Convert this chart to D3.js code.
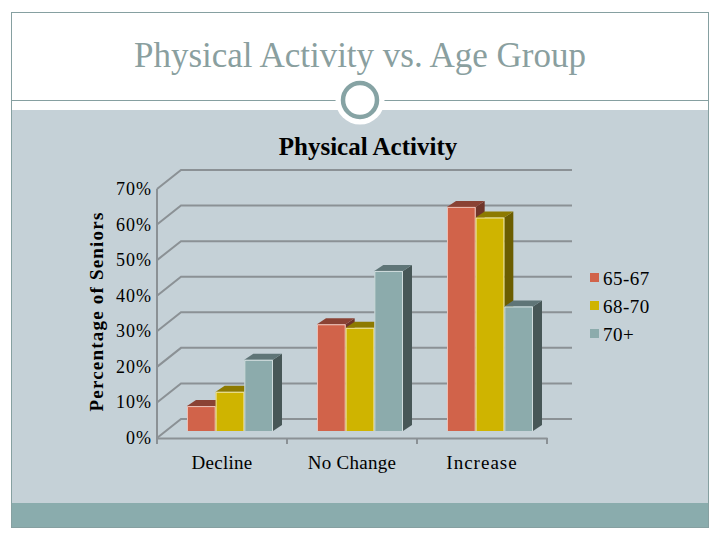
<!DOCTYPE html>
<html><head><meta charset="utf-8">
<script src="https://cdnjs.cloudflare.com/ajax/libs/d3/7.8.5/d3.min.js"></script>
<style>html,body{margin:0;padding:0;background:#fff}svg{display:block}text{font-family:"Liberation Serif",serif}</style>
</head><body><div id="c"></div>
<script>
const categories = ["Decline","No Change","Increase"];
const seriesNames = ["65-67","68-70","70+"];
const s6567 = [7,30,63];
const s6870 = [11,29,60];
const s70plus = [20,45,35];
const tickValues = [0,10,20,30,40,50,60,70];
const seriesValues = [s6567,s6870,s70plus];
const frontCol = ["#d1634a","#cfb400","#8cabac"];
const topCol = ["#8a4234","#8d7a00","#5f7577"];
const sideCol = ["#6f352a","#6b5d00","#475757"];

const svg = d3.select("#c").append("svg").attr("width",720).attr("height",540);
// slide
svg.append("rect").attr("x",12).attr("y",110).attr("width",696).attr("height",393).attr("fill","#c5d1d7");
svg.append("rect").attr("x",12).attr("y",503).attr("width",696).attr("height",24).attr("fill","#8aacad");
svg.append("rect").attr("x",11.5).attr("y",12.5).attr("width",697).attr("height",515).attr("fill","none").attr("stroke","#86a0a1").attr("stroke-width",1);
svg.append("line").attr("x1",12).attr("x2",708).attr("y1",100.5).attr("y2",100.5).attr("stroke","#86a0a1").attr("stroke-width",1);
svg.append("circle").attr("cx",360).attr("cy",100).attr("r",24.5).attr("fill","#fff");
svg.append("circle").attr("cx",360).attr("cy",100).attr("r",17).attr("fill","#fff").attr("stroke","#86a3a4").attr("stroke-width",4.5);
svg.append("text").attr("x",360).attr("y",67).attr("text-anchor","middle").attr("font-size",35).attr("fill","#8a9f9f").text("Physical Activity vs. Age Group");
svg.append("text").attr("x",368).attr("y",155).attr("text-anchor","middle").attr("font-size",25).attr("font-weight","bold").attr("fill","#000").text("Physical Activity");

// scales
const y = d3.scaleLinear().domain([0,70]).range([438,189]);
const x0 = d3.scaleBand().domain(categories).range([157,547]);
const x1 = d3.scaleBand().domain(seriesNames).range([30,116]);
const wallDx = 24, wallDy = -19, barBase = 7, barDx = 9, barDy = -6;
const grid = "#8b9195";

// walls
tickValues.forEach(t=>{
  svg.append("path").attr("fill","none").attr("stroke",grid).attr("stroke-width",2)
   .attr("d",d3.line()([[x0.range()[0],y(t)],[x0.range()[0]+wallDx,y(t)+wallDy],[x0.range()[1]+wallDx+1,y(t)+wallDy]]));
});
const ax = svg.append("g").attr("transform","translate(0,438)")
  .call(d3.axisBottom(x0).tickValues([]).tickSizeOuter(0));
ax.select(".domain").attr("stroke",grid).attr("stroke-width",2);
const tickXs = categories.map(c=>x0(c)).concat([x0.range()[1]]);
tickXs.forEach(v=>svg.append("line").attr("x1",v).attr("x2",v).attr("y1",438).attr("y2",444).attr("stroke",grid).attr("stroke-width",2));
svg.append("line").attr("x1",157).attr("x2",157).attr("y1",y(70)).attr("y2",438).attr("stroke",grid).attr("stroke-width",2);

// tick labels
tickValues.forEach(t=>svg.append("text").attr("x",152).attr("y",y(t)+6).attr("text-anchor","end").attr("font-size",18).attr("letter-spacing",1).attr("fill","#000").text(t+"%"));
categories.forEach(c=>svg.append("text").attr("x",x0(c)+x0.bandwidth()/2).attr("y",469).attr("text-anchor","middle").attr("font-size",19).attr("letter-spacing",c==="Increase"?1:0.3).attr("fill","#000").text(c));
svg.append("text").attr("transform","translate(103,311.5) rotate(-90)").attr("text-anchor","middle").attr("font-size",19).attr("letter-spacing",1.2).attr("font-weight","bold").attr("fill","#000").text("Percentage of Seniors");

// bars
const h = y(0)-y(1);
categories.forEach((c,ci)=>{
  seriesNames.forEach((s,si)=>{
    const v = seriesValues[si][ci];
    const xa = x0(c)+x1(s), w = x1.bandwidth();
    const bot = y(0)-barBase, top = bot-v*h;
    const g = svg.append("g");
    g.append("path").attr("fill",sideCol[si]).attr("d",d3.line()([[xa+w,top],[xa+w+barDx,top+barDy],[xa+w+barDx,bot+barDy],[xa+w,bot]])+"Z");
    g.append("path").attr("fill",topCol[si]).attr("d",d3.line()([[xa,top],[xa+barDx,top+barDy],[xa+w+barDx,top+barDy],[xa+w,top]])+"Z");
    g.append("rect").attr("x",xa).attr("y",top).attr("width",w).attr("height",bot-top).attr("fill",frontCol[si]);
    g.append("path").attr("fill","none").attr("stroke","#fff").attr("stroke-opacity",0.6).attr("stroke-width",1)
      .attr("d",d3.line()([[xa+.5,bot],[xa+.5,top+.5],[xa+w-.5,top+.5],[xa+w-.5,bot]]));
  });
});

// legend
seriesNames.forEach((s,i)=>{
  const ly = 278+i*28;
  svg.append("rect").attr("x",590).attr("y",ly-5).attr("width",9).attr("height",9).attr("fill",frontCol[i]);
  svg.append("text").attr("x",603).attr("y",ly+7).attr("font-size",19).attr("letter-spacing",0.5).attr("fill","#000").text(s);
});
</script></body></html>
